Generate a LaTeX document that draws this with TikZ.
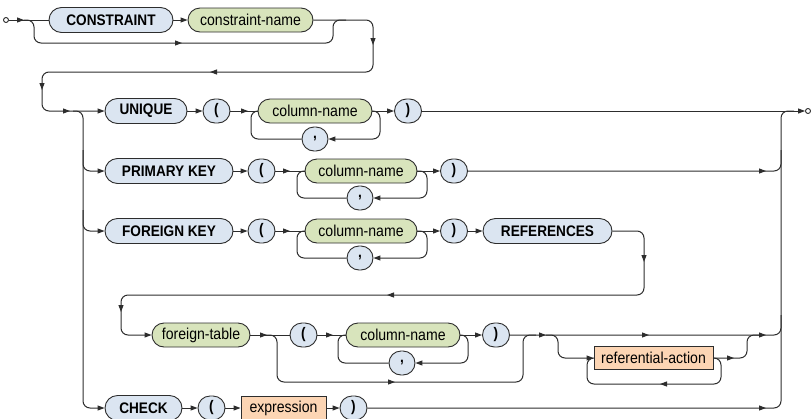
\documentclass[tikz,border=0pt]{standalone}
\usepackage{fontspec}
\setmainfont{Liberation Sans}[FakeStretch=0.89]
\usetikzlibrary{arrows.meta}
\definecolor{kwfill}{RGB}{219,229,241}
\definecolor{ntfill}{RGB}{216,228,188}
\definecolor{exfill}{RGB}{252,213,180}
\definecolor{ln}{RGB}{45,45,45}
\pgfdeclarelayer{bg}
\pgfsetlayers{bg,main}
\tikzset{
  base/.style={draw=ln, line width=0.9pt, inner sep=0pt, text=black, font=\fontsize{15.8}{18}\selectfont},
  kw/.style={base, fill=kwfill, rounded corners=12.5pt, minimum height=25pt, font=\fontsize{15.3}{18}\selectfont\bfseries},
  nt/.style={base, fill=ntfill, rounded corners=12pt, minimum height=24pt},
  pun/.style={base, fill=kwfill, rounded corners=12pt, minimum height=24pt, minimum width=27pt, font=\fontsize{15.3}{18}\selectfont\bfseries},
  ex/.style={base, fill=exfill, minimum height=23pt},
  wire/.style={draw=ln, line width=1pt, rounded corners=7pt},
  arr/.style={wire, -{Triangle[length=7pt,width=5pt]}},
  term/.style={circle, draw=ln, line width=0.9pt, inner sep=0pt, minimum size=5pt, fill=white},
}
\newcommand\mR[2]{\draw[arr] (#1-5,#2) -- (#1,#2);}
\newcommand\mL[2]{\draw[arr] (#1+5,#2) -- (#1,#2);}
\newcommand\mD[2]{\draw[arr] (#1,#2-5) -- (#1,#2);}
\begin{document}
\begin{tikzpicture}[x=1pt,y=-1pt]
\useasboundingbox (0,0) rectangle (811,418);
% row 0
\node[term] (start) at (6,20) {};
\node[kw, minimum width=124pt] (kC) at (111,20) {CONSTRAINT};
\node[nt, minimum width=125pt] (cn) at (250.5,20) {constraint-name};
% UNIQUE
\node[kw, minimum width=82pt] (kU) at (146,111) {UNIQUE};
\node[pun] (lpU) at (216.5,111) {(};
\node[nt, minimum width=114pt] (cnU) at (315,111) {column-name};
\node[pun, minimum width=26pt] (cmU) at (315,139) {,};
\node[pun] (rpU) at (408,111) {)};
\node[term] (end) at (808,111) {};
% PRIMARY KEY
\node[kw, minimum width=128pt] (kP) at (169,171) {PRIMARY KEY};
\node[pun] (lpP) at (261.5,171) {(};
\node[nt, minimum width=112pt] (cnP) at (361,171) {column-name};
\node[pun, minimum width=26pt] (cmP) at (360,198) {,};
\node[pun] (rpP) at (454,171) {)};
% FOREIGN KEY
\node[kw, minimum width=128pt] (kF) at (169,231) {FOREIGN KEY};
\node[pun] (lpF) at (261.5,231) {(};
\node[nt, minimum width=112pt] (cnF) at (361,231) {column-name};
\node[pun, minimum width=26pt] (cmF) at (360,258) {,};
\node[pun] (rpF) at (454,231) {)};
\node[kw, minimum width=129pt] (kR) at (547.5,231) {REFERENCES};
% foreign-table row
\node[nt, minimum width=98pt] (ft) at (201,335) {foreign-table};
\node[pun] (lpT) at (303.5,335) {(};
\node[nt, minimum width=114pt] (cnT) at (403,335) {column-name};
\node[pun, minimum width=26pt] (cmT) at (402,363) {,};
\node[pun] (rpT) at (496,335) {)};
\node[ex, minimum width=119pt] (ra) at (653.5,358) {referential-action};
% CHECK
\node[kw, minimum width=77pt] (kK) at (143.5,408) {CHECK};
\node[pun] (lpK) at (211.5,408) {(};
\node[ex, minimum width=85pt] (ex) at (283.5,408) {expression};
\node[pun] (rpK) at (353.5,408) {)};

\begin{pgfonlayer}{bg}
% row 0
\draw[wire] (start) -- (kC);
\mR{24}{20}
\draw[arr] (kC) -- (cn);
\draw[wire] (24,20) -- (34,20) -- (34,43) -- (333,43) -- (333,20) -- (346,20);
\mR{182}{43}
\draw[arr] (cn.east) -- (373,20) -- (373,72) -- (42,72) -- (42,111) -- (kU.west);
\mD{373}{45}
\mL{210}{72}
\mD{42}{90}
\mR{70}{111}
% left branch
\draw[arr] (73,111) -- (83,111) -- (83,408) -- (kK.west);
\draw[arr] (83,150) -- (83,171) -- (kP.west);
\draw[arr] (83,210) -- (83,231) -- (kF.west);
% UNIQUE row
\draw[arr] (kU) -- (lpU);
\draw[wire] (lpU) -- (cnU);
\mR{248}{111}
\draw[arr] (cnU) -- (rpU);
\draw[arr] ([xshift=-5pt]cnU.east) -- (380,111) -- (380,139) -- (cmU.east);
\draw[wire] (cmU.west) -- (251,139) -- (251,111) -- ([xshift=6pt]cnU.west);
\draw[arr] (rpU) -- (end);
% PRIMARY KEY row
\draw[arr] (kP) -- (lpP);
\draw[wire] (lpP) -- (cnP);
\mR{290}{171}
\draw[arr] (cnP) -- (rpP);
\draw[arr] ([xshift=-5pt]cnP.east) -- (427,171) -- (427,198) -- (cmP.east);
\draw[wire] (cmP.west) -- (297,198) -- (297,171) -- ([xshift=6pt]cnP.west);
\draw[wire] (rpP) -- (781,171) -- (781,150);
\mR{766}{171}
% FOREIGN KEY row
\draw[arr] (kF) -- (lpF);
\draw[wire] (lpF) -- (cnF);
\mR{290}{231}
\draw[arr] (cnF) -- (rpF);
\draw[arr] ([xshift=-5pt]cnF.east) -- (427,231) -- (427,258) -- (cmF.east);
\draw[wire] (cmF.west) -- (297,258) -- (297,231) -- ([xshift=6pt]cnF.west);
\draw[arr] (rpF) -- (kR);
\draw[arr] (kR.east) -- (644,231) -- (644,295) -- (121,295) -- (121,335) -- (ft.west);
\mD{644}{262}
\mL{387}{295}
\mD{121}{312}
% foreign-table row
\draw[wire] (ft) -- (lpT);
\mR{267}{335}
\draw[wire] (264,335) -- (277,335) -- (277,382) -- (523,382) -- (523,335) -- (536,335);
\mR{395}{382}
\draw[wire] (lpT) -- (cnT);
\mR{333}{335}
\draw[arr] (cnT) -- (rpT);
\draw[arr] ([xshift=-5pt]cnT.east) -- (468,335) -- (468,363) -- (cmT.east);
\draw[wire] (cmT.west) -- (338,363) -- (338,335) -- ([xshift=6pt]cnT.west);
\draw[wire] (rpT) -- (781,335) -- (781,315);
\mR{546}{335}
\mR{649}{335}
\mR{766}{335}
\draw[arr] (546,335) -- (558,335) -- (558,358) -- (ra.west);
\draw[wire] (ra.east) -- (747,358) -- (747,335) -- (760,335);
\mR{734}{358}
\draw[wire] ([xshift=-5pt]ra.east) -- (721,358) -- (721,384) -- (587,384) -- (587,358) -- ([xshift=5pt]ra.west);
\mL{660}{384}
% CHECK row
\draw[arr] (kK) -- (lpK);
\draw[arr] (lpK) -- (ex);
\draw[arr] (ex) -- (rpK);
\draw[wire] (rpK) -- (781,408) -- (781,111) -- (794,111);
\mR{766}{408}
\end{pgfonlayer}
\end{tikzpicture}
\end{document}
